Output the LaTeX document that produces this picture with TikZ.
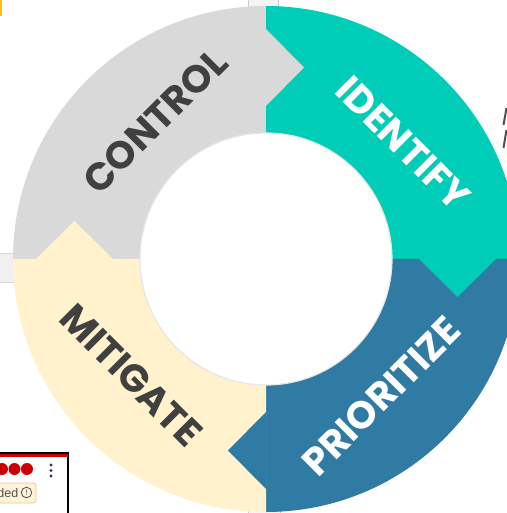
\documentclass[tikz,border=0pt]{standalone}
\usepackage{fontspec}
\setmainfont{Poppins}
\newfontfamily\uisans{Liberation Sans}
\definecolor{cgray}{HTML}{D9D9D9}
\definecolor{cteal}{HTML}{00CDB7}
\definecolor{cblue}{HTML}{307BA3}
\definecolor{ccream}{HTML}{FFF2CC}
\definecolor{cdark}{HTML}{404040}
\definecolor{cyel}{HTML}{FFC000}
\definecolor{cpanel}{HTML}{F4F4F4}
\definecolor{cpanelb}{HTML}{CCCCCC}
\definecolor{cbar}{HTML}{F0F0F0}
\definecolor{cbarb}{HTML}{D8D8D8}
\definecolor{chole}{HTML}{E6E6E6}
\definecolor{cmark}{HTML}{505050}
\definecolor{cred}{HTML}{CC0000}
\definecolor{ckebab}{HTML}{323250}
\definecolor{cbadge}{HTML}{FFF4D6}
\definecolor{cbadgeb}{HTML}{E8C98A}
\definecolor{cuitext}{HTML}{505050}
\tikzset{
  lbl/.style={font=\fontsize{38.5}{38.5}\selectfont\bfseries, inner sep=0pt},
}
\begin{document}
\begin{tikzpicture}[x=1pt,y=1pt]
\useasboundingbox (-266,-254) rectangle (240,259);
% background screenshot remnants
\fill[white] (-266,-254) rectangle (240,259);
\fill[cyel] (-266,259) rectangle (-263.5,243);
\filldraw[fill=cpanel, draw=cpanelb, line width=0.8] (-18,262) rectangle (12,251);
\filldraw[fill=cbar, draw=cbarb, line width=0.8] (-270,6) rectangle (-235,-23);
\filldraw[fill=cpanel, draw=cpanelb, line width=0.8] (-18,-258) rectangle (14,-251);
% ring quarters
\fill[cgray] (90:253) arc[start angle=90,end angle=180,radius=253] -- (180:126) arc[start angle=180,end angle=90,radius=126] -- cycle;
\fill[cteal] (0:253) arc[start angle=0,end angle=90,radius=253] -- (90:126) arc[start angle=90,end angle=0,radius=126] -- cycle;
\fill[cblue] (-90:253) arc[start angle=-90,end angle=0,radius=253] -- (0:126) arc[start angle=0,end angle=-90,radius=126] -- cycle;
\fill[ccream] (180:253) arc[start angle=180,end angle=270,radius=253] -- (270:126) arc[start angle=270,end angle=180,radius=126] -- cycle;
% chevrons
\fill[cgray] (-0.6,153) -- (0,153) -- (38,191.5) -- (0,230) -- (-0.6,230) -- cycle;
\begin{scope}[rotate=-90]
\fill[cteal] (-0.6,153) -- (0,153) -- (38,191.5) -- (0,230) -- (-0.6,230) -- cycle;
\end{scope}
\begin{scope}[rotate=-180]
\fill[cblue] (-0.6,153) -- (0,153) -- (38,191.5) -- (0,230) -- (-0.6,230) -- cycle;
\end{scope}
\begin{scope}[rotate=90]
\fill[ccream] (-0.6,153) -- (0,153) -- (38,191.5) -- (0,230) -- (-0.6,230) -- cycle;
\end{scope}
% inner hole
\filldraw[fill=white, draw=chole, line width=1.2] (0,0) circle[radius=126];
% labels
\node[lbl, text=cdark, rotate=45] (control) at (-111,138) {CONTROL};
\node[lbl, text=white, rotate=-45] (identify) at (137,116) {IDENTIFY};
\node[lbl, text=white, rotate=45] (prioritize) at (115,-137) {PRIORITIZE};
\node[lbl, text=cdark, rotate=-45] (mitigate) at (-135,-116) {MITIGATE};
% right edge marks
\draw[cmark, line width=2] (237.5,134) -- (240.5,151);
\draw[cmark, line width=2] (237.5,111) -- (240.5,129);
% bottom-left widget remnant
\filldraw[fill=white, draw=black, line width=1.2] (-270,-194) rectangle (-198,-262);
\fill[cred] (-270,-194) rectangle (-198,-198);
\draw[black, line width=1.2] (-270,-194) -- (-198,-194);
\foreach \xx in {-264,-251.5,-239}{\fill[cred] (\xx,-210) circle[radius=6];}
\foreach \yy in {-206,-211.5,-217}{\fill[ckebab] (-215,\yy) circle[radius=1.6];}
\filldraw[fill=cbadge, draw=cbadgeb, line width=0.8, rounded corners=3] (-275,-224) rectangle (-230,-244);
\node[font=\uisans\fontsize{12.5}{12.5}\selectfont, text=cuitext, inner sep=0pt, anchor=east] (ded) at (-247.5,-234) {ded};
\node[draw=cuitext, circle, line width=0.8, inner sep=0pt, minimum size=10.5pt, font=\uisans\fontsize{8}{8}\selectfont, text=cuitext] (info) at (-239.5,-233.5) {!};
\end{tikzpicture}
\end{document}
